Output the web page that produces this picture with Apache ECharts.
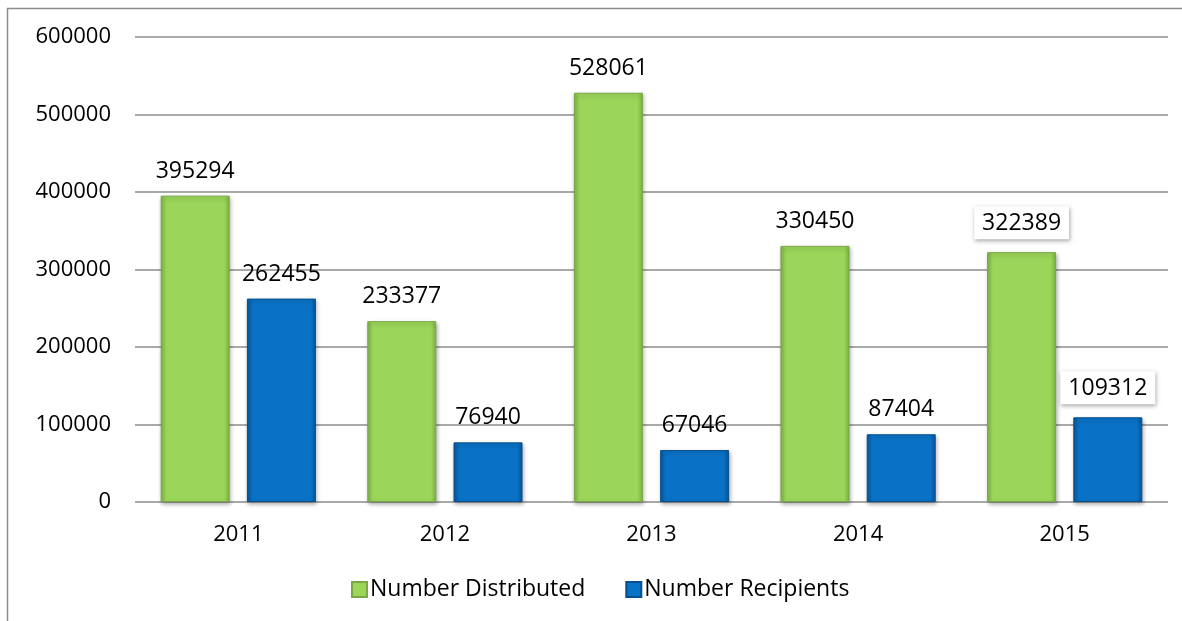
<!DOCTYPE html>
<html>
<head>
<meta charset="utf-8">
<script src="https://cdn.jsdelivr.net/npm/echarts@6/dist/echarts.min.js"></script>
<style>
    html, body { margin: 0; padding: 0; background: #fff; }
    #chart { width: 1182px; height: 621px; }
</style>
</head>
<body>
<div id="chart"></div>
<script>
// 数据
var years = ["2011", "2012", "2013", "2014", "2015"];
var distributed = [395294, 233377, 528061, 330450, 322389];
var recipients = [262455, 76940, 67046, 87404, 109312];
var yTicks = [0, 100000, 200000, 300000, 400000, 500000, 600000];

(function () {
    var myChart = echarts.init(document.getElementById("chart"));
    var font = "Open Sans, Noto Sans, sans-serif";

    // 2015 的标签带白色底框
    function labelData(values) {
        return values.map(function (v, i) {
            if (i === values.length - 1) {
                return {
                    value: v,
                    label: {
                        backgroundColor: "#fff",
                        padding: [6, 8, 4, 8],
                        shadowColor: "rgba(0,0,0,0.35)",
                        shadowBlur: 4,
                        shadowOffsetX: 1,
                        shadowOffsetY: 2
                    }
                };
            }
            return v;
        });
    }

    function barFill(mid, dark) {
        return new echarts.graphic.LinearGradient(0, 0, 1, 0, [
            { offset: 0, color: dark },
            { offset: 0.08, color: mid },
            { offset: 0.92, color: mid },
            { offset: 1, color: dark }
        ]);
    }

    var labelStyle = {
        show: true,
        position: "top",
        distance: 13,
        fontFamily: font,
        fontSize: 23,
        color: "#000"
    };

    var option = {
        animation: false,
        // 外框
        graphic: [{
            type: "rect",
            shape: { x: 7.5, y: 8.5, width: 1300, height: 800 },
            style: { fill: "none", stroke: "#8c8c8c", lineWidth: 1.5 },
            silent: true
        }],
        grid: {
            left: 135,
            right: 14,
            top: 37,
            bottom: 119
        },
        legend: {
            left: 346,
            top: 573,
            itemWidth: 15,
            itemHeight: 15,
            itemGap: 40,
            icon: "rect",
            textStyle: { fontFamily: font, fontSize: 23, color: "#000", padding: [0, 0, 0, -2] },
            data: ["Number Distributed", "Number Recipients"]
        },
        xAxis: {
            type: "category",
            data: years,
            axisLine: { show: false },
            axisTick: { show: false },
            axisLabel: {
                fontFamily: font,
                fontSize: 22,
                color: "#000",
                margin: 22
            }
        },
        yAxis: {
            type: "value",
            min: yTicks[0],
            max: yTicks[yTicks.length - 1],
            interval: 100000,
            axisLine: { show: false },
            axisTick: { show: false },
            axisLabel: {
                fontFamily: font,
                fontSize: 22,
                color: "#000",
                margin: 24,
                formatter: function (v) { return String(v); }
            },
            splitLine: { lineStyle: { color: "#8c8c8c", width: 1.5 } }
        },
        series: [
            {
                name: "Number Distributed",
                type: "bar",
                barWidth: 69,
                barGap: "25%",
                data: labelData(distributed),
                itemStyle: {
                    color: barFill("#9bd65a", "#7fb545"),
                    borderColor: "#7aa845",
                    borderWidth: 1,
                    shadowColor: "rgba(0,0,0,0.3)",
                    shadowBlur: 4,
                    shadowOffsetX: 1,
                    shadowOffsetY: 2
                },
                label: labelStyle
            },
            {
                name: "Number Recipients",
                type: "bar",
                barWidth: 69,
                data: labelData(recipients),
                itemStyle: {
                    color: barFill("#0a72c6", "#08579a"),
                    borderColor: "#064e8c",
                    borderWidth: 1,
                    shadowColor: "rgba(0,0,0,0.3)",
                    shadowBlur: 4,
                    shadowOffsetX: 1,
                    shadowOffsetY: 2
                },
                label: labelStyle
            }
        ]
    };
    myChart.setOption(option);
})();
</script>
</body>
</html>
